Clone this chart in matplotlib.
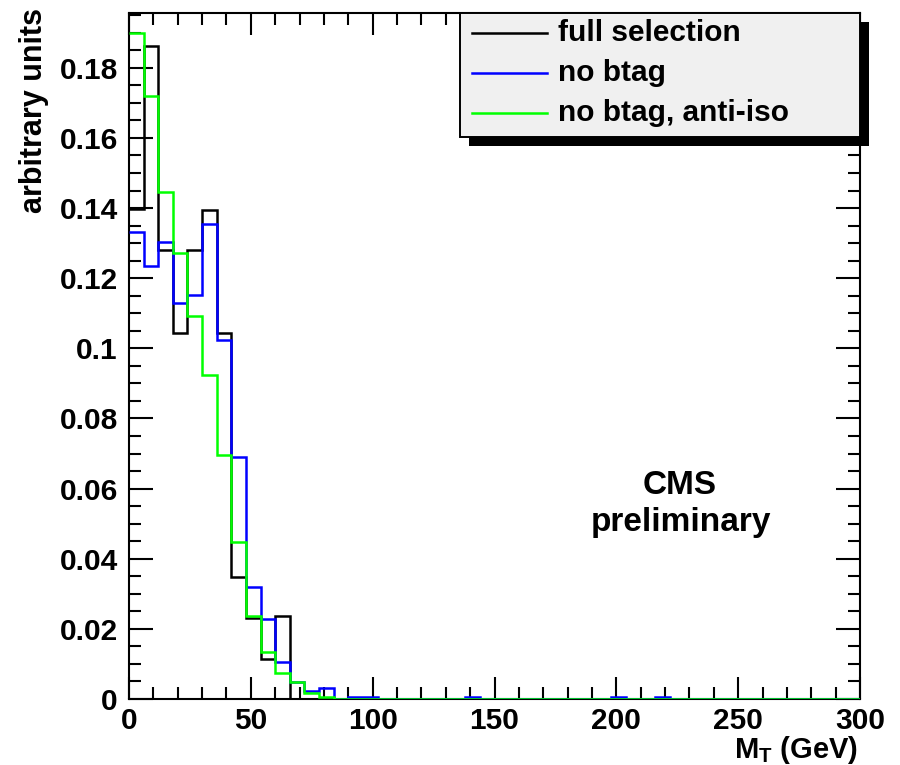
import matplotlib
matplotlib.use("Agg")
import matplotlib.pyplot as plt
import numpy as np
from matplotlib.patches import Rectangle
from matplotlib.lines import Line2D
from matplotlib.ticker import MultipleLocator, FuncFormatter

plt.rcParams['font.family'] = ['Liberation Sans', 'DejaVu Sans']
plt.rcParams['font.weight'] = 'bold'
plt.rcParams['mathtext.fontset'] = 'custom'
plt.rcParams['mathtext.rm'] = 'Liberation Sans:bold'
plt.rcParams['mathtext.bf'] = 'Liberation Sans:bold'
plt.rcParams['mathtext.it'] = 'Liberation Sans:bold'

# M_T histograms: 50 bins of 6 GeV between 0 and 300 GeV
bin_edges = np.linspace(0, 300, 51)

full_selection = np.zeros(50)
full_selection[:11] = [0.1398, 0.1863, 0.1281, 0.1045, 0.1281, 0.1393,
                       0.1045, 0.0348, 0.0231, 0.0113, 0.0236]

no_btag = np.zeros(50)
no_btag[:14] = [0.1333, 0.1235, 0.1303, 0.1129, 0.1151, 0.1355, 0.1023,
                0.0690, 0.0318, 0.0227, 0.0106, 0.0048, 0.0024, 0.0030]
no_btag[15] = 0.0007
no_btag[16] = 0.0007
no_btag[23] = 0.0007
no_btag[33] = 0.0007
no_btag[36] = 0.0007

no_btag_antiiso = np.zeros(50)
no_btag_antiiso[:14] = [0.1900, 0.1719, 0.1445, 0.1273, 0.1091, 0.0925,
                        0.0697, 0.0447, 0.0238, 0.0135, 0.0073, 0.0048,
                        0.0016, 0.0007]

series = [full_selection, no_btag, no_btag_antiiso]
labels = ["full selection", "no btag", "no btag, anti-iso"]
colors = ["#000000", "#0000ff", "#00ff00"]

W, H = 900, 765
fig = plt.figure(figsize=(W / 100, H / 100), dpi=100)


def fx(px):
    return px / W


def fy(py):
    return 1 - py / H


ax = fig.add_axes([fx(129), fy(699), fx(860) - fx(129), fy(13) - fy(699)])

for vals, col, lab in zip(series, colors, labels):
    ax.stairs(vals, bin_edges, color=col, lw=1.8, label=lab, zorder=3,
              baseline=None)

ax.set_xlim(0, 300)
ax.set_ylim(0, 1.05 * full_selection.max())

for s in ax.spines.values():
    s.set_linewidth(1.5)
    s.set_zorder(2.5)

ax.xaxis.set_major_locator(MultipleLocator(50))
ax.xaxis.set_minor_locator(MultipleLocator(10))
ax.yaxis.set_major_locator(MultipleLocator(0.02))
ax.yaxis.set_minor_locator(MultipleLocator(0.005))
ax.yaxis.set_major_formatter(FuncFormatter(lambda v, p: "%g" % round(v, 4)))

ax.tick_params(which='both', direction='in', top=True, right=True,
               width=1.5, labelsize=21.5)
ax.tick_params(axis='x', which='major', length=16, pad=6)
ax.tick_params(axis='x', which='minor', length=8.5)
ax.tick_params(axis='y', which='major', length=17, pad=8)
ax.tick_params(axis='y', which='minor', length=8.5)

# axis titles
fig.text(fx(858), fy(750), r"$\mathregular{M_T}$ (GeV)", ha='right',
         va='center', fontsize=21, fontweight='bold')
fig.text(fx(34), fy(8), "arbitrary units", rotation=90, ha='center',
         va='top', fontsize=22, fontweight='bold')

# CMS label
ax.text(fx(680), fy(485), "CMS", transform=fig.transFigure, ha='center',
        va='center', fontsize=24, fontweight='bold')
ax.text(fx(681), fy(522), "preliminary", transform=fig.transFigure,
        ha='center', va='center', fontsize=24, fontweight='bold')

# legend box with offset shadow
lx0, ly0, lx1, ly1 = 460, 13, 860, 137
sh = 9
fig.add_artist(Rectangle((fx(lx0 + sh), fy(ly1 + sh)), fx(lx1 - lx0),
                         fy(ly0) - fy(ly1), transform=fig.transFigure,
                         facecolor='black', edgecolor='none', zorder=5))
fig.add_artist(Rectangle((fx(lx0), fy(ly1)), fx(lx1 - lx0),
                         fy(ly0) - fy(ly1), transform=fig.transFigure,
                         facecolor='#f0f0f0', edgecolor='black', lw=1.4,
                         zorder=6))
row_y = [33, 73, 113]
for yy, col, lab in zip(row_y, colors, labels):
    fig.add_artist(Line2D([fx(472), fx(547)], [fy(yy), fy(yy)],
                          transform=fig.transFigure, color=col, lw=1.8,
                          zorder=7))
    fig.text(fx(558), fy(yy), lab, ha='left', va='center', fontsize=21.5,
             fontweight='bold', zorder=7)

fig.savefig("out.png", dpi=100)
